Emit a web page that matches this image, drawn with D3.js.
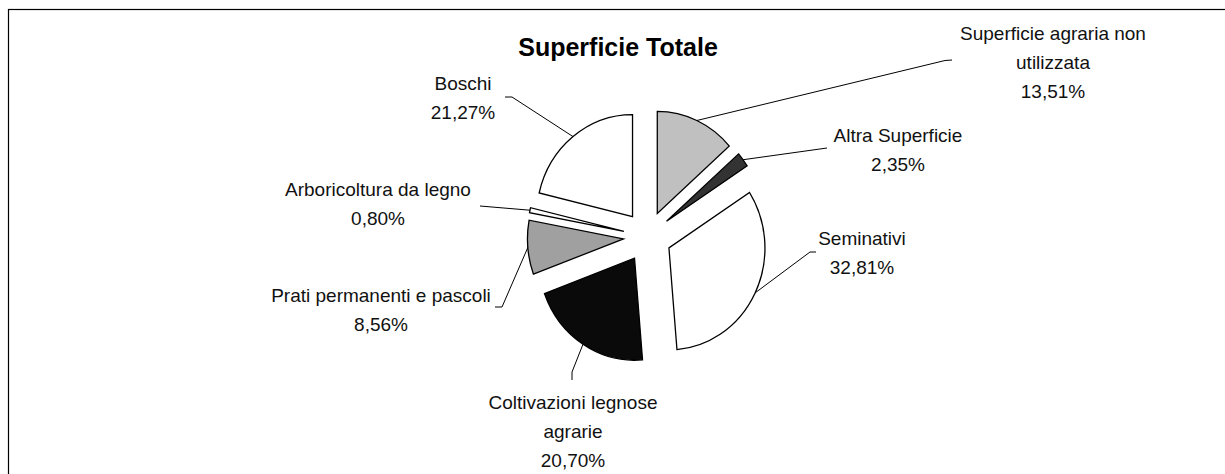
<!DOCTYPE html>
<html>
<head>
<meta charset="utf-8">
<script src="https://cdn.jsdelivr.net/npm/d3@7"></script>
<style>
  body { margin: 0; background: #fff; }
  svg { display: block; font-family: "Liberation Sans", Arial, sans-serif; }
  .slice path { stroke: #000; stroke-width: 1.3; vector-effect: non-scaling-stroke; }
  .leader { fill: none; stroke: #000; stroke-width: 1; }
  .lbl { font-size: 19px; fill: #111; text-anchor: middle; }
</style>
</head>
<body>
<script>
// data
var categories = ["Superficie agraria non utilizzata", "Altra Superficie", "Seminativi",
                  "Coltivazioni legnose agrarie", "Prati permanenti e pascoli",
                  "Arboricoltura da legno", "Boschi"];
var values = [13.51, 2.35, 32.81, 20.70, 8.56, 0.80, 21.27];
var labelLines = [["Superficie agraria non", "utilizzata"], ["Altra Superficie"], ["Seminativi"],
                  ["Coltivazioni legnose", "agrarie"], ["Prati permanenti e pascoli"],
                  ["Arboricoltura da legno"], ["Boschi"]];
var fills = ["#c0c0c0", "#333333", "#ffffff", "#0a0a0a", "#a0a0a0", "#ffffff", "#ffffff"];

// label layout (first line centre / baseline) and leader bends
var labelPos = [[1053, 40], [898, 142], [862, 245], [573, 409], [381, 302], [378, 196], [463, 90]];
var leaderEnd = [[[945, 60.5], [952, 60]], [[827, 148]], [[810, 252], [816, 252]],
                 [[572, 372], [572, 380]], [[502, 307], [495, 307]], [[480, 206]],
                 [[512, 97], [505, 97]]];

var W = 1225, H = 474;
var cx = 647.4, cy = 236.7,
    ry = 102, rx = 96,
    explode = 25.5,
    sx = rx / ry,
    lineH = 29;

var fmt = function(v) { return d3.format(".2f")(v).replace(".", ",") + "%"; };

var svg = d3.select("body").append("svg")
    .attr("width", W)
    .attr("height", H);

// frame
svg.append("rect")
    .attr("x", 8.5).attr("y", 9.5)
    .attr("width", W).attr("height", H)
    .attr("fill", "none")
    .attr("stroke", "#000")
    .attr("stroke-width", 1.2);

// title
svg.append("text")
    .attr("x", 618).attr("y", 56)
    .attr("text-anchor", "middle")
    .style("font-size", "25px")
    .style("font-weight", "bold")
    .text("Superficie Totale");

var pie = d3.pie().sort(null).value(function(d) { return d; });
var arcs = pie(values);
var arc = d3.arc().innerRadius(0).outerRadius(ry);

function apex(d) {
  var m = (d.startAngle + d.endAngle) / 2;
  return [cx + explode * sx * Math.sin(m), cy - explode * Math.cos(m)];
}

svg.selectAll(".slice")
  .data(arcs)
  .enter().append("g")
    .attr("class", "slice")
    .attr("transform", function(d) {
      var a = apex(d);
      return "translate(" + a[0] + "," + a[1] + ") scale(" + sx + ",1)";
    })
  .append("path")
    .attr("d", arc)
    .attr("fill", function(d, i) { return fills[i]; });

// leader lines
var line = d3.line();
svg.selectAll(".leader")
  .data(arcs)
  .enter().append("path")
    .attr("class", "leader")
    .attr("d", function(d, i) {
      var a = apex(d), m = (d.startAngle + d.endAngle) / 2;
      var start = [a[0] + rx * Math.sin(m), a[1] - ry * Math.cos(m)];
      return line([start].concat(leaderEnd[i]));
    });

// labels
var lbl = svg.selectAll(".lbl")
  .data(arcs)
  .enter().append("text")
    .attr("class", "lbl")
    .attr("x", function(d, i) { return labelPos[i][0]; })
    .attr("y", function(d, i) { return labelPos[i][1]; });

lbl.each(function(d, i) {
  var t = d3.select(this);
  var lines = labelLines[i].concat([fmt(values[i])]);
  lines.forEach(function(s, j) {
    t.append("tspan")
      .attr("x", labelPos[i][0])
      .attr("dy", j === 0 ? 0 : lineH)
      .text(s);
  });
});
</script>
</body>
</html>
